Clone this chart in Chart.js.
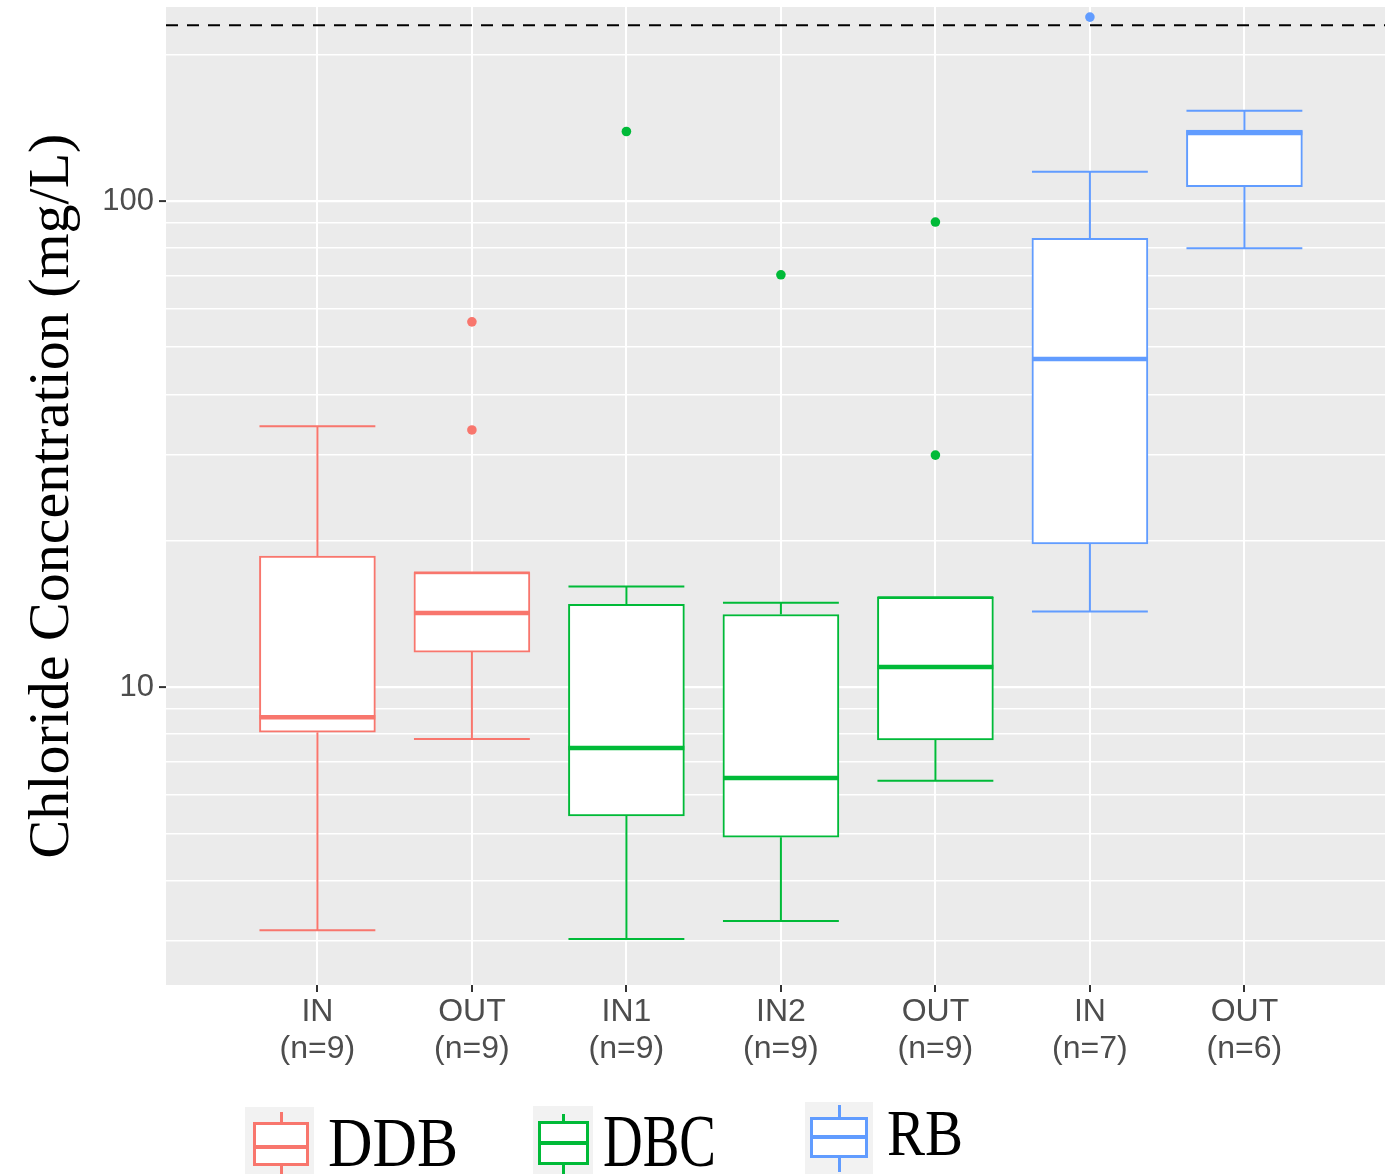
<!DOCTYPE html>
<html>
<head>
<meta charset="utf-8">
<script src="https://cdn.jsdelivr.net/npm/chart.js@4.4.1/dist/chart.umd.min.js"></script>
<style>
  body { margin: 0; background: #fff; }
  #wrap { position: relative; width: 1385px; height: 1174px; overflow: hidden; }
  #chart { position: absolute; left: 0; top: 0; }
  .key, .key div, .lbl { position: absolute; box-sizing: border-box; }
  .lbl { font-family: 'Liberation Serif', 'Times New Roman', serif; line-height: 1; color: #000; white-space: nowrap; transform-origin: 0 0; }
</style>
</head>
<body>
<div id="wrap">
  <canvas id="chart" width="1385" height="1174"></canvas>
  <div id="legend"></div>
</div>
<script>
// categories and sample sizes
const labels = ['IN', 'OUT', 'IN1', 'IN2', 'OUT', 'IN', 'OUT'];
const counts = [9, 9, 9, 9, 9, 7, 6];
const groups = ['DDB', 'DDB', 'DBC', 'DBC', 'DBC', 'RB', 'RB'];

// box plot stats (mg/L)
const whiskerLow  = [3.16, 7.82, 3.03, 3.30, 6.41, 14.3, 79.9];
const q1          = [8.07, 11.8, 5.43, 4.91, 7.78, 19.7, 107];
const median      = [8.67, 14.2, 7.49, 6.50, 11.0, 47.3, 138];
const q3          = [18.6, 17.2, 14.8, 14.1, 15.3, 83.8, 140];
const whiskerHigh = [34.4, 17.2, 16.1, 14.9, 15.3, 114.8, 153.4];
const outliers    = [[], [56.4, 33.8], [139], [70.5], [90.5, 30.0], [239], []];

// chronic chloride threshold (dashed line)
const threshold = 230;

// y axis ticks / grid
const gridValues = [3, 4, 5, 6, 7, 8, 9, 10, 20, 30, 40, 50, 60, 70, 80, 90, 100, 200];
const labelValues = [10, 100];

const colors = { DDB: '#F8766D', DBC: '#00BA38', RB: '#619CFF' };

const xMin = 0.02, xMax = 7.91;
const yMin = 2.437, yMax = 250.7;
const hw = 0.375; // half box width in category units

const datasets = [];

// threshold line
datasets.push({
  type: 'line',
  data: [{ x: xMin, y: threshold }, { x: xMax, y: threshold }],
  borderColor: '#000',
  borderWidth: 2,
  borderDash: [12, 9],
  pointRadius: 0,
  order: 0
});

// outliers
const outPts = [], outCols = [];
outliers.forEach((list, i) => {
  list.forEach(v => {
    outPts.push({ x: i + 1, y: v });
    outCols.push(colors[groups[i]]);
  });
});
datasets.push({
  type: 'line',
  data: outPts,
  showLine: false,
  pointRadius: 4.8,
  pointBorderWidth: 0,
  pointBackgroundColor: outCols,
  pointBorderColor: outCols,
  order: 1
});

// medians + whiskers for every box
labels.forEach((lab, i) => {
  const x = i + 1;
  const c = colors[groups[i]];
  datasets.push({
    type: 'line',
    data: [{ x: x - hw, y: median[i] }, { x: x + hw, y: median[i] }],
    borderColor: c,
    borderWidth: 4.5,
    pointRadius: 0,
    order: 2
  });
  datasets.push({
    type: 'line',
    data: [
      { x: x - hw, y: whiskerLow[i] }, { x: x + hw, y: whiskerLow[i] }, { x: x, y: null },
      { x: x, y: whiskerLow[i] }, { x: x, y: q1[i] }, { x: x, y: null },
      { x: x, y: q3[i] }, { x: x, y: whiskerHigh[i] }, { x: x, y: null },
      { x: x - hw, y: whiskerHigh[i] }, { x: x + hw, y: whiskerHigh[i] }
    ],
    borderColor: c,
    borderWidth: 2,
    pointRadius: 0,
    spanGaps: false,
    order: 4
  });
});

// boxes (q1..q3 floating bars)
datasets.push({
  type: 'bar',
  data: labels.map((lab, i) => ({ x: i + 1, y: [q1[i], q3[i]] })),
  backgroundColor: '#fff',
  borderColor: groups.map(g => colors[g]),
  borderWidth: 2,
  borderSkipped: false,
  barThickness: 116,
  order: 3
});

// grey panel like ggplot
const panelBg = {
  id: 'panelBg',
  beforeDraw(chart) {
    const { ctx, chartArea: a } = chart;
    ctx.save();
    ctx.fillStyle = '#EBEBEB';
    ctx.fillRect(a.left, a.top, a.right - a.left, a.bottom - a.top);
    ctx.restore();
  }
};

new Chart(document.getElementById('chart'), {
  type: 'bar',
  data: { datasets },
  plugins: [panelBg],
  options: {
    responsive: false,
    animation: false,
    layout: { autoPadding: false, padding: { top: 7, right: 0, bottom: 0, left: 0 } },
    plugins: { legend: { display: false }, tooltip: { enabled: false } },
    scales: {
      x: {
        type: 'linear',
        min: xMin,
        max: xMax,
        offset: false,
        border: { display: false },
        grid: { color: '#fff', lineWidth: 2, tickColor: '#333', tickLength: 7, tickWidth: 2, offset: false },
        ticks: {
          autoSkip: false,
          maxRotation: 0,
          padding: 2,
          color: '#4D4D4D',
          font: { family: "'Liberation Sans', Arial, sans-serif", size: 32, lineHeight: 1.15 },
          callback: v => [labels[v - 1], '(n=' + counts[v - 1] + ')']
        },
        afterBuildTicks: s => { s.ticks = labels.map((lab, i) => ({ value: i + 1 })); },
        afterFit: s => { s.height = 189; s.paddingLeft = 0; s.paddingRight = 0; }
      },
      y: {
        type: 'logarithmic',
        min: yMin,
        max: yMax,
        border: { display: false },
        grid: {
          color: '#fff',
          lineWidth: c => labelValues.includes(c.tick.value) ? 2.2 : 1.6,
          tickColor: c => labelValues.includes(c.tick.value) ? '#333' : 'rgba(0,0,0,0)',
          tickLength: 7,
          tickWidth: 2
        },
        ticks: {
          autoSkip: false,
          padding: 5,
          color: '#4D4D4D',
          font: { family: "'Liberation Sans', Arial, sans-serif", size: 31 },
          callback: v => labelValues.includes(v) ? String(v) : ''
        },
        title: {
          display: true,
          text: 'Chloride Concentration (mg/L)',
          color: '#000',
          font: { family: "'Liberation Serif', 'Times New Roman', serif", size: 58, lineHeight: 1 },
          padding: { top: 24, bottom: 0 }
        },
        afterBuildTicks: s => { s.ticks = gridValues.map(v => ({ value: v })); },
        afterFit: s => { s.width = 166; s.paddingTop = 0; s.paddingBottom = 0; }
      }
    }
  }
});

// legend with box-plot keys (pasted-in look of the original)
const keys = [
  { name: 'DDB', bg: [245, 1107, 69, 67], box: [253, 1122, 56, 44], med: 1147, stub: [1112, 1174], size: 70.5, sx: 0.874, tx: 328, ty: 1107 },
  { name: 'DBC', bg: [533, 1106, 60, 68], box: [538, 1121, 51, 44], med: 1143, stub: [1114, 1174], size: 73.6, sx: 0.747, tx: 603, ty: 1105 },
  { name: 'RB',  bg: [805, 1102, 68, 72], box: [810, 1117, 58, 41], med: 1137, stub: [1105, 1172], size: 65,   sx: 0.877, tx: 887, ty: 1101 }
];
const legend = document.getElementById('legend');
function part(parent, l, t, w, h, css) {
  const d = document.createElement('div');
  d.style.cssText = `left:${l}px;top:${t}px;width:${w}px;height:${h}px;${css}`;
  parent.appendChild(d);
  return d;
}
keys.forEach(k => {
  const c = colors[k.name];
  const [bl, bt, bw, bh] = k.bg;
  const [xl, xt, xw, xh] = k.box;
  const key = part(legend, bl, bt, bw, bh, 'background:#F2F2F2;');
  key.className = 'key';
  const cx = xl + xw / 2 - bl;
  part(key, cx - 1.5, k.stub[0] - bt, 3, xt - k.stub[0], `background:${c};`);
  part(key, cx - 1.5, xt + xh - bt, 3, k.stub[1] - (xt + xh), `background:${c};`);
  part(key, xl - bl, xt - bt, xw, xh, `background:#fff;border:3px solid ${c};`);
  part(key, xl - bl, k.med - bt - 2, xw, 4, `background:${c};`);
  const t = document.createElement('span');
  t.className = 'lbl';
  t.textContent = k.name;
  t.style.cssText = `left:${k.tx}px;top:${k.ty}px;font-size:${k.size}px;transform:scaleX(${k.sx});`;
  legend.appendChild(t);
});
</script>
</body>
</html>
